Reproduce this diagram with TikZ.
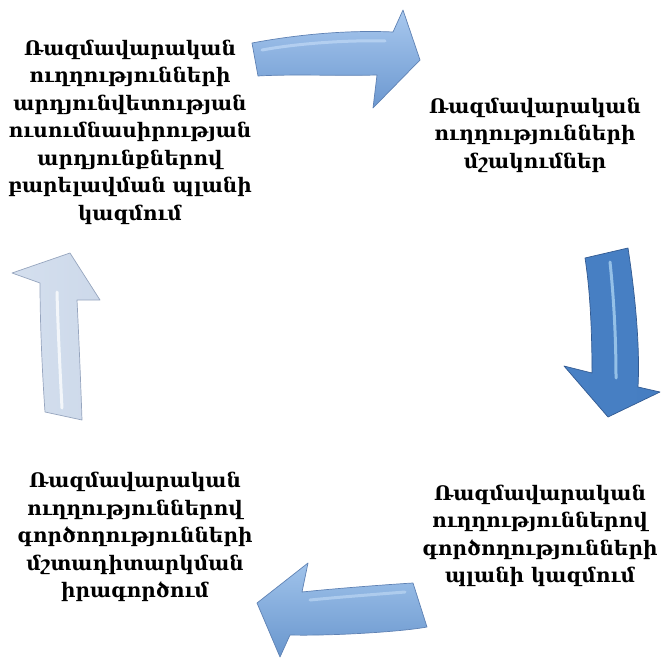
\documentclass[tikz,border=0pt]{standalone}
\usepackage{fontspec}
\newfontfamily\armfont{DejaVu Serif}
\definecolor{taedge}{RGB}{95,130,180}
\definecolor{tatop}{RGB}{168,200,238}
\definecolor{tabot}{RGB}{108,152,208}
\definecolor{tashine}{RGB}{190,215,245}
\definecolor{raedge}{RGB}{50,90,145}
\definecolor{raleft}{RGB}{72,128,196}
\definecolor{ramid}{RGB}{130,184,234}
\definecolor{raright}{RGB}{70,126,194}
\definecolor{rashine}{RGB}{175,214,244}
\definecolor{batop}{RGB}{160,195,235}
\definecolor{babot}{RGB}{105,150,205}
\definecolor{bashine}{RGB}{185,212,242}
\definecolor{laedge}{RGB}{150,165,190}
\definecolor{laleft}{RGB}{212,223,238}
\definecolor{lamid}{RGB}{248,250,254}
\definecolor{laright}{RGB}{205,217,234}
\begin{document}
\begin{tikzpicture}[x=1pt,y=-1pt,
  lbl/.style={font=\armfont\bfseries\fontsize{20}{27.5}\selectfont, align=center, text=black, inner sep=0pt},
  arrowedge/.style={draw=#1, line width=0.7pt, line join=round},
  shine/.style={draw=#1, line width=3pt, line cap=round, opacity=0.75}]
\useasboundingbox (0,0) rectangle (661,661);

% top arrow (pointing right)
\path[arrowedge=taedge, top color=tatop, bottom color=tabot]
  (252,43) .. controls (300,34) and (350,30) .. (393,32) -- (403,10) -- (420,60) -- (373,108) -- (377,75)
  .. controls (340,76) and (290,74) .. (258,76) -- cycle;
\draw[shine=tashine] (262,50) .. controls (300,43) and (350,40) .. (385,41);

% right arrow (pointing down)
\path[arrowedge=raedge, left color=raleft, middle color=ramid, right color=raright]
  (585,258) -- (628,248) .. controls (636,300) and (640,350) .. (638,387) -- (660,392) -- (608,417) -- (564,366) -- (592,373)
  .. controls (592,330) and (590,290) .. (585,258) -- cycle;
\draw[shine=rashine] (610,262) .. controls (614,300) and (616,340) .. (616,378);

% bottom arrow (pointing left)
\path[arrowedge=taedge, top color=batop, bottom color=babot]
  (413,583) -- (427,627) .. controls (400,632) and (330,636) .. (290,635) -- (280,657) -- (257,603) -- (308,563) -- (302,592)
  .. controls (330,589) and (380,585) .. (413,583) -- cycle;
\draw[shine=bashine] (405,592) .. controls (380,594) and (340,597) .. (310,600);

% left arrow (pointing up)
\path[arrowedge=laedge, left color=laleft, middle color=lamid, right color=laright]
  (45,412) .. controls (42,370) and (40,320) .. (40,283) -- (12,273) -- (70,253) -- (100,300) -- (77,300)
  .. controls (79,340) and (81,390) .. (82,420) -- cycle;
\draw[shine=white] (57,292) .. controls (58,330) and (60,370) .. (62,408);

% texts
\node[lbl] (t1) at (130,132) {Ռազմավարական\\ուղղությունների\\արդյունվետության\\ուսումնասիրության\\արդյունքներով\\բարելավման պլանի\\կազմում};
\node[lbl] (t2) at (535,135) {Ռազմավարական\\ուղղությունների\\մշակումներ};
\node[lbl] (t3) at (540,536) {Ռազմավարական\\ուղղություններով\\գործողությունների\\պլանի կազմում};
\node[lbl] (t4) at (135,537) {Ռազմավարական\\ուղղություններով\\գործողությունների\\մշտադիտարկման\\իրագործում};
\end{tikzpicture}
\end{document}
